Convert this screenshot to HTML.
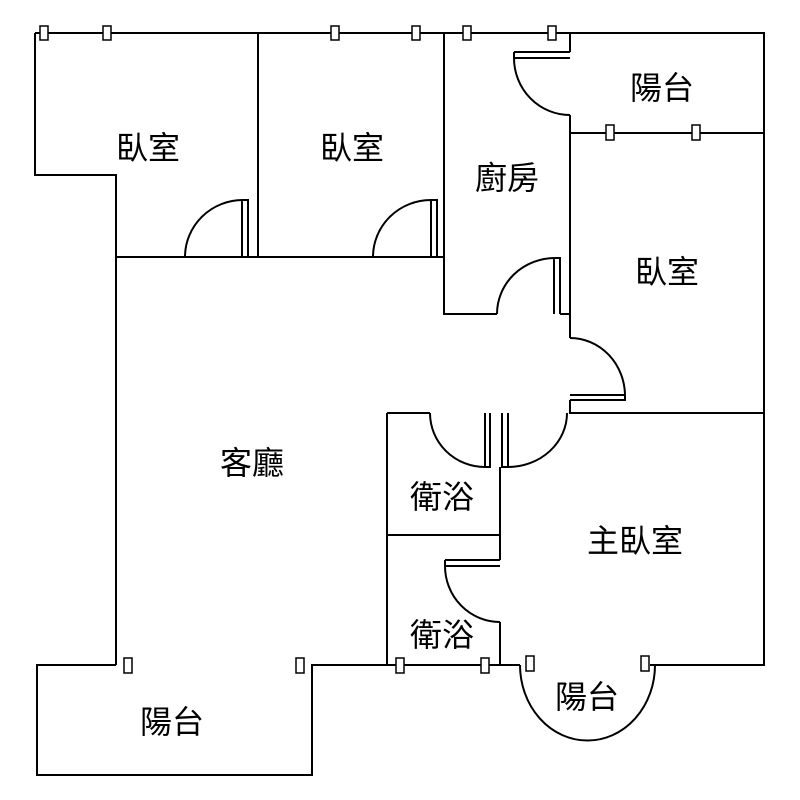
<!DOCTYPE html>
<html><head><meta charset="utf-8"><style>
body{margin:0;background:#fff}
svg{display:block}
text{font-family:"Liberation Sans","Noto Sans CJK TC",sans-serif;font-size:32px;fill:#000;text-anchor:middle;dominant-baseline:central}
</style></head><body>
<svg width="800" height="800" viewBox="0 0 800 800" fill="none" stroke="#000" stroke-width="2">
<path d="M35 33 H570 M444 33 H764 V665 H650"/>
<path d="M35 33 V175 H116 V665"/>
<path d="M258 33 V257 M116 257 H444 M444 33 V314 H497 M560 314 H570"/>
<path d="M570 33 V52 M570 115 V338 M570 400 V413 H764 M570 133 H764"/>
<path d="M387 413 H430 M387 413 V665 M387 535 H500 M500 467 V560 M500 622 V665"/>
<path d="M116 665 H37 V775 H312 V665 H520"/>
<path d="M185 257 A58 57 0 0 1 243 200 H248 V257 M242 200 V257"/>
<path d="M373 257 A58 57 0 0 1 431 200 H437 V257 M431 200 V257"/>
<path d="M514 52 H570 M514 58 H570 M514 52 V58 A56 57 0 0 0 570 115"/>
<path d="M497 314 A58 56 0 0 1 555 258 H560 V314 M554 258 V314"/>
<path d="M570 338 A55 58 0 0 1 625 396 V400 H570 M570 395 H625"/>
<path d="M430 413 A55 54 0 0 0 485 467 H490 V413 M485 413 V467"/>
<path d="M567 413 A59 54 0 0 1 508 467 H502 V413 M508 413 V467"/>
<path d="M445 560 H500 M445 566 H500 M445 560 V566 A55 56 0 0 0 500 622"/>
<path d="M520 665 A67 75 0 0 0 655 665"/>
<g fill="#fff" stroke-width="1.5">
<rect x="40" y="26" width="8" height="14"/><rect x="103" y="26" width="8" height="14"/>
<rect x="331" y="26" width="8" height="14"/><rect x="412" y="26" width="8" height="14"/>
<rect x="463" y="26" width="8" height="14"/><rect x="548" y="26" width="8" height="14"/>
<rect x="606" y="125" width="8" height="15"/><rect x="692" y="125" width="8" height="15"/>
<rect x="124" y="658" width="8" height="15"/><rect x="296" y="658" width="8" height="15"/>
<rect x="396" y="658" width="8" height="15"/><rect x="481" y="658" width="8" height="15"/>
<rect x="526" y="656" width="8" height="15"/><rect x="641" y="656" width="8" height="15"/>
</g>
<g stroke="none">
<text x="148" y="148">臥室</text>
<text x="352" y="148">臥室</text>
<text x="662" y="88">陽台</text>
<text x="507" y="178">廚房</text>
<text x="667" y="272">臥室</text>
<text x="252" y="463">客廳</text>
<text x="442" y="497">衛浴</text>
<text x="635" y="541">主臥室</text>
<text x="442" y="635">衛浴</text>
<text x="587" y="697">陽台</text>
<text x="172" y="722">陽台</text>
</g>
</svg>
</body></html>
